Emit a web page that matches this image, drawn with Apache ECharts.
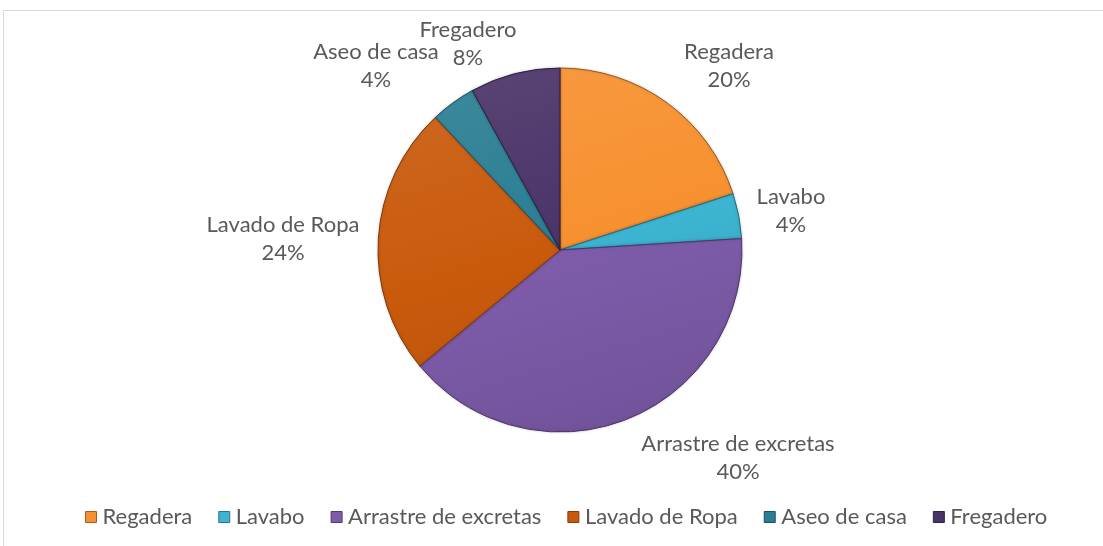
<!DOCTYPE html>
<html>
<head>
<meta charset="utf-8">
<script src="https://cdn.jsdelivr.net/npm/echarts@6/dist/echarts.min.js"></script>
<style>
  html, body { margin: 0; padding: 0; background: #fff; overflow: hidden; }
  #frame { position: absolute; left: 3px; top: 10px; width: 1110px; height: 550px; border: 1px solid #d9d9d9; }
  #chart { position: absolute; left: 0; top: 0; width: 1103px; height: 546px; }
</style>
</head>
<body>
<div id="frame"></div>
<div id="chart"></div>
<script>
const categories = ['Regadera', 'Lavabo', 'Arrastre de excretas', 'Lavado de Ropa', 'Aseo de casa', 'Fregadero']
const values = [20, 4, 40, 24, 4, 8]
const colors = ['#F7902F', '#3CB4D2', '#7E5CAB', '#C95A0C', '#2A7E93', '#4A3368']

// where Excel put each data label (centre of the two-line block)
const labelAnchors = [[729, 66], [791, 211], [738, 458], [283, 239], [376, 66], [468, 44]]

const CX = 560, CY = 250, R = 182

const shade = (hex, f) => {
    let n = parseInt(hex.slice(1), 16)
    let c = [n >> 16, (n >> 8) & 255, n & 255].map(v => Math.max(0, Math.min(255, Math.round(f > 0 ? v + (255 - v) * f : v * (1 + f)))))
    return 'rgb(' + c.join(',') + ')'
}

const sliceFill = hex => ({
    type: 'linear', global: true,
    x: CX - R * 0.3, y: CY - R, x2: CX + R * 0.3, y2: CY + R,
    colorStops: [
        { offset: 0, color: shade(hex, 0.08) },
        { offset: 0.5, color: hex },
        { offset: 1, color: shade(hex, -0.1) }
    ]
})

const chart = echarts.init(document.getElementById('chart'), null, { renderer: 'canvas' })

const option = {
    animation: false,
    textStyle: { fontFamily: 'Lato, "Open Sans", sans-serif' },
    legend: {
        top: 501,
        left: 80,
        itemWidth: 11,
        itemHeight: 11,
        itemGap: 26,
        icon: 'rect',
        textStyle: { color: '#595959', fontSize: 22, fontFamily: 'Lato, sans-serif', padding: [0, 0, 0, 1] },
        data: categories.map((name, i) => ({ name: name, itemStyle: { color: colors[i], borderColor: shade(colors[i], -0.35), borderWidth: 1 } }))
    },
    series: [{
        type: 'pie',
        center: [CX, CY],
        radius: R,
        startAngle: 90,
        clockwise: true,
        label: {
            show: true,
            position: 'outside',
            formatter: '{b}\n{d}%',
            color: '#595959',
            fontSize: 22,
            lineHeight: 28,
            fontFamily: 'Lato, sans-serif',
            align: 'center'
        },
        labelLine: { show: false },
        labelLayout: params => ({
            x: labelAnchors[params.dataIndex][0],
            y: labelAnchors[params.dataIndex][1],
            align: 'center',
            verticalAlign: 'middle'
        }),
        data: categories.map((name, i) => ({
            name: name,
            value: values[i],
            itemStyle: {
                borderColor: shade(colors[i], -0.4),
                borderWidth: 1,
                color: sliceFill(colors[i]),
                shadowColor: 'rgba(0,0,0,0.18)',
                shadowBlur: 3
            }
        }))
    }]
}

chart.setOption(option)
</script>
</body>
</html>
